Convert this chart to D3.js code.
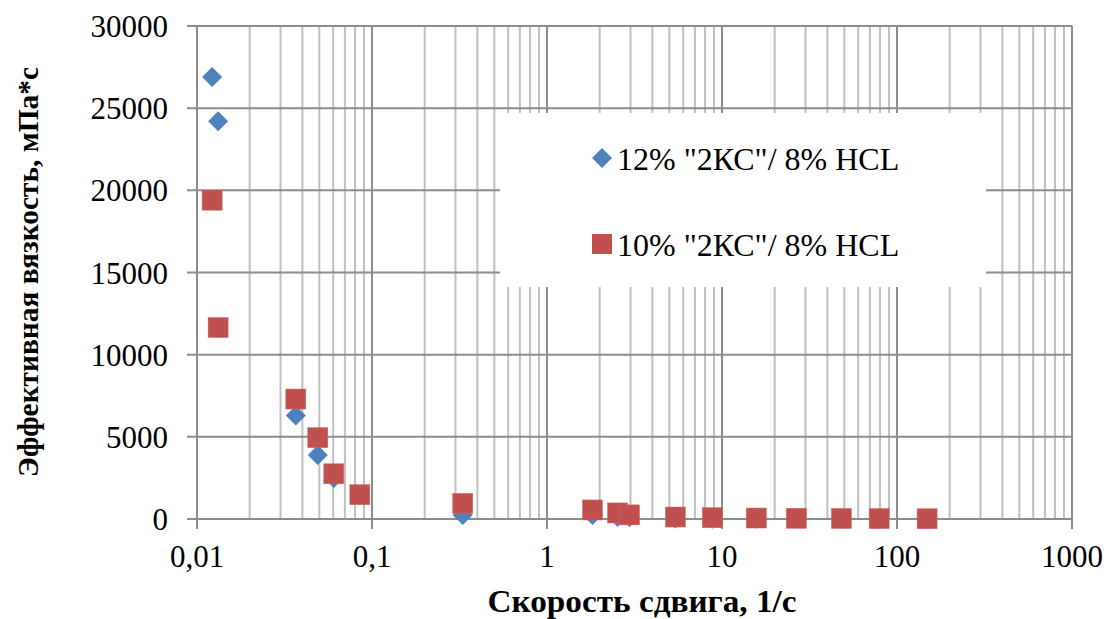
<!DOCTYPE html>
<html>
<head>
<meta charset="utf-8">
<script src="https://cdn.jsdelivr.net/npm/d3@7"></script>
<style>
  body { margin: 0; background: #fff; }
  svg text { font-family: "Times New Roman", "Liberation Serif", "DejaVu Serif", serif; fill: #000; }
</style>
</head>
<body>
<svg id="chart" width="1106" height="619"></svg>
<script>
// shear rate, 1/s
const rate12 = [0.0122, 0.0132, 0.0367, 0.049, 0.0605, 0.0852, 0.33, 1.82, 2.53, 2.96, 5.42, 8.81, 15.7, 26.6, 48.1, 79.1, 148.6];
const visc12 = [26900, 24200, 6300, 3900, 2500, 1450, 250, 250, 120, 100, 30, 20, 15, 10, 8, 6, 4];
const rate10 = [0.0122, 0.0132, 0.0367, 0.049, 0.0605, 0.0852, 0.33, 1.82, 2.53, 2.96, 5.42, 8.81, 15.7, 26.6, 48.1, 79.1, 148.6];
const visc10 = [19400, 11650, 7300, 4950, 2750, 1480, 950, 550, 370, 250, 120, 80, 60, 45, 35, 25, 15];

const yTicks = [0, 5000, 10000, 15000, 20000, 25000, 30000];
const xTicks = [0.01, 0.1, 1, 10, 100, 1000];
const xTickLabels = ["0,01", "0,1", "1", "10", "100", "1000"];
const seriesNames = ['12% "2КС"/ 8% HCL', '10% "2КС"/ 8% HCL'];

const blue = "#4f81bd", red = "#c0504d";
const serif = '"Times New Roman", "Liberation Serif", "DejaVu Serif", serif';

const svg = d3.select("#chart");
const x = d3.scaleLog().domain([0.01, 1000]).range([197, 1072]);
const y = d3.scaleLinear().domain([0, 30000]).range([519, 26]);

// minor vertical grid
const minor = [];
for (let e = -2; e < 3; e++) for (let m = 2; m <= 9; m++) minor.push(m * Math.pow(10, e));

svg.append("g").selectAll("line").data(minor).join("line")
  .attr("x1", d => x(d)).attr("x2", d => x(d))
  .attr("y1", y(30000)).attr("y2", y(0))
  .attr("stroke", "#c0c0c0").attr("stroke-width", 2);

svg.append("g").selectAll("line").data(xTicks.slice(1)).join("line")
  .attr("x1", d => x(d)).attr("x2", d => x(d))
  .attr("y1", y(30000)).attr("y2", y(0) + 10)
  .attr("stroke", "#8c8c8c").attr("stroke-width", 2);

svg.append("g").selectAll("line").data(yTicks.slice(1)).join("line")
  .attr("x1", x(0.01) - 10).attr("x2", x(1000))
  .attr("y1", d => y(d)).attr("y2", d => y(d))
  .attr("stroke", "#8c8c8c").attr("stroke-width", 2);

// axes
svg.append("line")
  .attr("x1", x(0.01) - 10).attr("x2", x(1000) + 1)
  .attr("y1", y(0)).attr("y2", y(0))
  .attr("stroke", "#8c8c8c").attr("stroke-width", 2);
svg.append("line")
  .attr("x1", x(0.01)).attr("x2", x(0.01))
  .attr("y1", y(30000) - 1).attr("y2", y(0) + 10)
  .attr("stroke", "#8c8c8c").attr("stroke-width", 2);

svg.append("g").selectAll("text").data(yTicks).join("text")
  .attr("x", 168).attr("y", d => y(d) + 11)
  .attr("text-anchor", "end")
  .attr("font-family", serif)
  .style("font-size", "31px")
  .text(d => d);

svg.append("g").selectAll("text").data(xTicks).join("text")
  .attr("x", d => x(d)).attr("y", 567)
  .attr("text-anchor", "middle")
  .attr("font-family", serif)
  .style("font-size", "31px")
  .text((d, i) => xTickLabels[i]);

// legend box (sits over the grid)
svg.append("rect")
  .attr("x", 500).attr("y", 113).attr("width", 486).attr("height", 174)
  .attr("fill", "#fff");

const diamond = d3.symbol().type(d3.symbolSquare).size(200);

function drawDiamonds(g, rates, vals) {
  g.selectAll("path").data(rates).join("path")
    .attr("d", diamond)
    .attr("transform", (d, i) => `translate(${x(d)},${y(vals[i])}) rotate(45)`)
    .attr("fill", blue);
}
function drawSquares(g, rates, vals) {
  g.selectAll("rect").data(rates).join("rect")
    .attr("x", d => x(d) - 10).attr("y", (d, i) => y(vals[i]) - 10)
    .attr("width", 20).attr("height", 20)
    .attr("fill", red).attr("stroke", "#c66").attr("stroke-width", 0.5);
}

drawDiamonds(svg.append("g"), rate12, visc12);
drawSquares(svg.append("g"), rate10, visc10);

// legend entries
const lg = svg.append("g");
lg.append("path").attr("d", diamond)
  .attr("transform", "translate(602,158) rotate(45)").attr("fill", blue);
lg.append("rect").attr("x", 592).attr("y", 234).attr("width", 20).attr("height", 20).attr("fill", red);
lg.selectAll("text").data(seriesNames).join("text")
  .attr("x", 617).attr("y", (d, i) => 170 + i * 86)
  .attr("font-family", serif)
  .style("font-size", "32px")
  .text(d => d);

// axis titles
svg.append("text")
  .attr("transform", "translate(38,272) rotate(-90)")
  .attr("text-anchor", "middle")
  .attr("textLength", 410).attr("lengthAdjust", "spacingAndGlyphs")
  .attr("font-family", serif)
  .style("font-size", "29px").style("font-weight", "bold")
  .text("Эффективная вязкость, мПа*с");

svg.append("text")
  .attr("x", 642).attr("y", 612)
  .attr("text-anchor", "middle")
  .attr("textLength", 309).attr("lengthAdjust", "spacingAndGlyphs")
  .attr("font-family", serif)
  .style("font-size", "31px").style("font-weight", "bold")
  .text("Скорость сдвига, 1/с");
</script>
</body>
</html>
